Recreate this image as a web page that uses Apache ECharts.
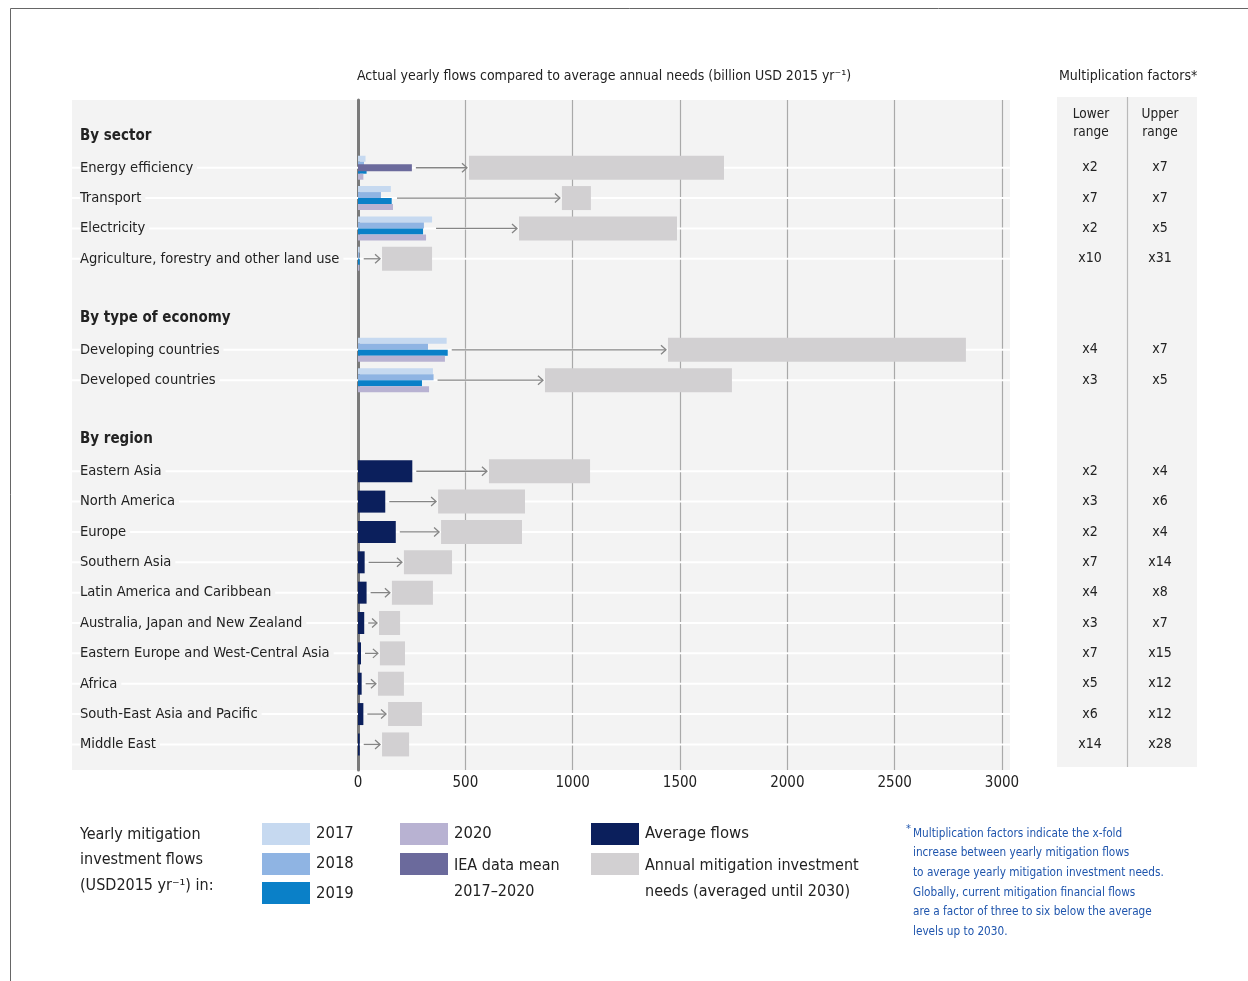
<!DOCTYPE html>
<html>
<head>
<meta charset="utf-8">
<script src="https://cdn.jsdelivr.net/npm/echarts@6/dist/echarts.min.js"></script>
<style>
  html, body { margin: 0; padding: 0; background: #fff; }
  #chart { width: 1248px; height: 981px; }
</style>
</head>
<body>
<div id="chart"></div>
<script>
// rows of the chart, headings and blank spacer rows included
const categories = [
  "By sector", "Energy efficiency", "Transport", "Electricity",
  "Agriculture, forestry and other land use", " ",
  "By type of economy", "Developing countries", "Developed countries", "  ",
  "By region", "Eastern Asia", "North America", "Europe", "Southern Asia",
  "Latin America and Caribbean", "Australia, Japan and New Zealand",
  "Eastern Europe and West-Central Asia", "Africa", "South-East Asia and Pacific",
  "Middle East"
];
const headings = ["By sector", "By type of economy", "By region"];

// yearly flows (billion USD2015 / yr)
const flows2017 = [null, 35, 153, 345, 8, null, null, 413, 349, null, null, null, null, null, null, null, null, null, null, null, null];
const flows2018 = [null, 28, 107, 307, 6, null, null, 326, 352, null, null, null, null, null, null, null, null, null, null, null, null];
const flows2019 = [null, 40, 157, 303, 8, null, null, 418, 298, null, null, null, null, null, null, null, null, null, null, null, null];
const flows2020 = [null, 25, 163, 317, 6, null, null, 405, 331, null, null, null, null, null, null, null, null, null, null, null, null];
const ieaMean   = [null, 251, null, null, null, null, null, null, null, null, null, null, null, null, null, null, null, null, null, null, null];
const avgFlows  = [null, null, null, null, null, null, null, null, null, null, null, 253, 127, 176, 31, 40, 29, 14, 17, 25, 8];

// annual needs range, averaged until 2030
const needsLow  = [null, 517, 950, 750, 112, null, null, 1444, 871, null, null, 610, 373, 387, 214, 158, 98, 102, 93, 140, 112];
const needsHigh = [null, 1705, 1085, 1486, 345, null, null, 2832, 1742, null, null, 1081, 778, 764, 438, 349, 196, 219, 214, 298, 238];

// multiplication factors
const lowerFactor = [null, "x2", "x7", "x2", "x10", null, null, "x4", "x3", null, null, "x2", "x3", "x2", "x7", "x4", "x3", "x7", "x5", "x6", "x14"];
const upperFactor = [null, "x7", "x7", "x5", "x31", null, null, "x7", "x5", null, null, "x4", "x6", "x4", "x14", "x8", "x7", "x15", "x12", "x12", "x28"];

const xTicks = [0, 500, 1000, 1500, 2000, 2500, 3000];

const F = '"Liberation Sans Narrow", "DejaVu Sans Condensed", "Roboto", sans-serif';
const C = {
  y2017: "#c6d9f0", y2018: "#8fb4e3", y2019: "#0a80c8", y2020: "#b8b2d2",
  iea: "#6b6a9c", avg: "#0b1f5c", needs: "#d2d0d2", bg: "#f3f3f3",
  text: "#222", note: "#1f55ad"
};

const chart = echarts.init(document.getElementById("chart"));

// needs box + arrow from the end of the flows
const needsData = [];
categories.forEach(function (c, i) {
  if (needsLow[i] == null) return;
  const start = Math.max(flows2017[i] || 0, flows2018[i] || 0, flows2019[i] || 0,
    flows2020[i] || 0, ieaMean[i] || 0, avgFlows[i] || 0);
  needsData.push([i, needsLow[i], needsHigh[i], start]);
});
const rowData = needsData.map(function (d) { return [d[0], 0]; });

function yearBar(name, data, color) {
  return {
    name: name, type: "bar", xAxisIndex: 1, yAxisIndex: 1,
    data: data, barWidth: 6, barGap: "0%", z: 3,
    itemStyle: { color: color }
  };
}

const option = {
  animation: false,
  textStyle: { fontFamily: F },
  grid: [
    { left: 358, right: 246, top: 100, bottom: 211 },
    { left: 358, right: 246, top: 122.2, height: 637.4 }
  ],
  xAxis: [
    {
      gridIndex: 0, type: "value", min: 0, max: 3000, interval: 500,
      axisLine: { show: false }, axisTick: { show: false },
      axisLabel: { fontSize: 15, color: C.text, fontFamily: F, margin: 6,
        formatter: function (v) { return xTicks.indexOf(v) >= 0 ? String(v) : ""; } },
      splitLine: { lineStyle: { color: "#a9a9a9", width: 1.2 } }
    },
    { gridIndex: 1, type: "value", min: 0, max: 3000, show: false }
  ],
  yAxis: [
    {
      gridIndex: 0, type: "value", min: 0, max: 1,
      axisLine: { show: true, lineStyle: { color: "#7a7a7a", width: 3 } },
      axisTick: { show: false }, axisLabel: { show: false }, splitLine: { show: false }
    },
    {
      gridIndex: 1, type: "category", inverse: true, data: categories, z: 3,
      axisLine: { show: false }, axisTick: { show: false },
      axisLabel: {
        interval: 0, margin: 278, align: "left",
        formatter: function (v) {
          if (!v.trim()) return "";
          return headings.indexOf(v) >= 0 ? "{h|" + v + "}" : "{n|" + v + "}";
        },
        rich: {
          h: { fontSize: 15, fontWeight: "bold", color: C.text, fontFamily: F,
            backgroundColor: C.bg, padding: [0, 4, 3, 0] },
          n: { fontSize: 14.6, color: C.text, fontFamily: F,
            backgroundColor: C.bg, padding: [0, 4, 0, 0] }
        }
      }
    },
    {
      gridIndex: 1, type: "category", inverse: true, data: categories, position: "right",
      axisLine: { show: false }, axisTick: { show: false },
      axisLabel: {
        interval: 0, margin: 53, align: "left",
        formatter: function (v, i) {
          if (lowerFactor[i] == null) return "";
          return "{a|" + lowerFactor[i] + "}{b|" + upperFactor[i] + "}";
        },
        rich: {
          a: { width: 70, align: "center", fontSize: 14, color: C.text, fontFamily: F },
          b: { width: 70, align: "center", fontSize: 14, color: C.text, fontFamily: F }
        }
      }
    },
    { gridIndex: 1, type: "category", inverse: true, data: categories, show: false }
  ],
  series: [
    {
      name: "rows", type: "custom", xAxisIndex: 1, yAxisIndex: 1, z: 1, silent: true,
      data: rowData,
      renderItem: function (params, api) {
        const cs = params.coordSys;
        const y = api.coord([0, api.value(0)])[1];
        return {
          type: "line", silent: true,
          shape: { x1: 72, y1: y, x2: cs.x + cs.width + 8, y2: y },
          style: { stroke: "#ffffff", lineWidth: 2 }
        };
      }
    },
    {
      name: "Annual mitigation investment needs", type: "custom",
      xAxisIndex: 1, yAxisIndex: 1, z: 2, data: needsData,
      encode: { x: [1, 2, 3], y: 0 },
      renderItem: function (params, api) {
        const cat = api.value(0);
        const p1 = api.coord([api.value(1), cat]);
        const p2 = api.coord([api.value(2), cat]);
        const ps = api.coord([api.value(3), cat]);
        const cy = p1[1];
        const ax = p1[0] - 2;
        return {
          type: "group",
          children: [
            { type: "rect", shape: { x: p1[0], y: cy - 12, width: p2[0] - p1[0], height: 24 },
              style: { fill: C.needs } },
            { type: "line", shape: { x1: ps[0] + 4, y1: cy, x2: ax, y2: cy },
              style: { stroke: "#858585", lineWidth: 1.3 } },
            { type: "polyline", shape: { points: [[ax - 5, cy - 4.5], [ax, cy], [ax - 5, cy + 4.5]] },
              style: { stroke: "#858585", lineWidth: 1.3, fill: null } }
          ]
        };
      }
    },
    yearBar("2017", flows2017, C.y2017),
    yearBar("2018", flows2018, C.y2018),
    yearBar("2019", flows2019, C.y2019),
    yearBar("2020", flows2020, C.y2020),
    {
      name: "IEA data mean 2017–2020", type: "bar", xAxisIndex: 1, yAxisIndex: 2,
      data: ieaMean, barWidth: 7, z: 4, itemStyle: { color: C.iea }
    },
    {
      name: "Average flows", type: "bar", xAxisIndex: 1, yAxisIndex: 3,
      data: avgFlows, barWidth: 22, z: 4, itemStyle: { color: C.avg }
    }
  ],
  graphic: [
    // frame
    { type: "line", z: -2, shape: { x1: 10.5, y1: 8.5, x2: 1248, y2: 8.5 }, style: { stroke: "#666", lineWidth: 1 } },
    { type: "line", z: -2, shape: { x1: 10.5, y1: 8.5, x2: 10.5, y2: 981 }, style: { stroke: "#666", lineWidth: 1 } },
    // panels
    { type: "rect", z: -1, shape: { x: 72, y: 100, width: 938, height: 670 }, style: { fill: C.bg } },
    { type: "rect", z: -1, shape: { x: 1057, y: 97, width: 140, height: 670 }, style: { fill: C.bg } },
    { type: "line", z: -1, shape: { x1: 1127.5, y1: 97, x2: 1127.5, y2: 767 }, style: { stroke: "#b9b9b9", lineWidth: 1.2 } },
    // titles
    { type: "text", left: 357, top: 69, style: { text: "Actual yearly flows compared to average annual needs (billion USD 2015 yr\u207B\u00B9)",
      fontSize: 14, fill: C.text, fontFamily: F } },
    { type: "text", left: 1059, top: 69, style: { text: "Multiplication factors*", fontSize: 14, fill: C.text, fontFamily: F } },
    { type: "text", x: 1091, y: 105, style: { text: "Lower\nrange", fontSize: 13.5, lineHeight: 18, align: "center", fill: C.text, fontFamily: F } },
    { type: "text", x: 1160, y: 105, style: { text: "Upper\nrange", fontSize: 13.5, lineHeight: 18, align: "center", fill: C.text, fontFamily: F } },
    // legend
    { type: "text", x: 80, y: 822, style: { text: "Yearly mitigation\ninvestment flows\n(USD2015 yr\u207B\u00B9) in:", fontSize: 16, lineHeight: 25.5, fill: C.text, fontFamily: F } },
    { type: "rect", shape: { x: 262, y: 823, width: 48, height: 22 }, style: { fill: C.y2017 } },
    { type: "rect", shape: { x: 262, y: 853, width: 48, height: 22 }, style: { fill: C.y2018 } },
    { type: "rect", shape: { x: 262, y: 882, width: 48, height: 22 }, style: { fill: C.y2019 } },
    { type: "text", x: 316, y: 834, style: { text: "2017", fontSize: 16.5, verticalAlign: "middle", fill: C.text, fontFamily: F } },
    { type: "text", x: 316, y: 864, style: { text: "2018", fontSize: 16.5, verticalAlign: "middle", fill: C.text, fontFamily: F } },
    { type: "text", x: 316, y: 894, style: { text: "2019", fontSize: 16.5, verticalAlign: "middle", fill: C.text, fontFamily: F } },
    { type: "rect", shape: { x: 400, y: 823, width: 48, height: 22 }, style: { fill: C.y2020 } },
    { type: "rect", shape: { x: 400, y: 853, width: 48, height: 22 }, style: { fill: C.iea } },
    { type: "text", x: 454, y: 834, style: { text: "2020", fontSize: 16.5, verticalAlign: "middle", fill: C.text, fontFamily: F } },
    { type: "text", x: 454, y: 853, style: { text: "IEA data mean\n2017\u20132020", fontSize: 16, lineHeight: 26, fill: C.text, fontFamily: F } },
    { type: "rect", shape: { x: 591, y: 823, width: 48, height: 22 }, style: { fill: C.avg } },
    { type: "rect", shape: { x: 591, y: 853, width: 48, height: 22 }, style: { fill: C.needs } },
    { type: "text", x: 645, y: 834, style: { text: "Average flows", fontSize: 16.5, verticalAlign: "middle", fill: C.text, fontFamily: F } },
    { type: "text", x: 645, y: 853, style: { text: "Annual mitigation investment\nneeds (averaged until 2030)", fontSize: 16, lineHeight: 26, fill: C.text, fontFamily: F } },
    // footnote
    { type: "text", x: 906, y: 824, style: { text: "*", fontSize: 11, fill: C.note, fontFamily: F } },
    { type: "text", x: 913, y: 824, style: {
      text: "Multiplication factors indicate the x-fold\nincrease between yearly mitigation flows\nto average yearly mitigation investment needs.\nGlobally, current mitigation financial flows\nare a factor of three to six below the average\nlevels up to 2030.",
      fontSize: 11.7, lineHeight: 19.6, fill: C.note, fontFamily: F } }
  ]
};

chart.setOption(option);
</script>
</body>
</html>
